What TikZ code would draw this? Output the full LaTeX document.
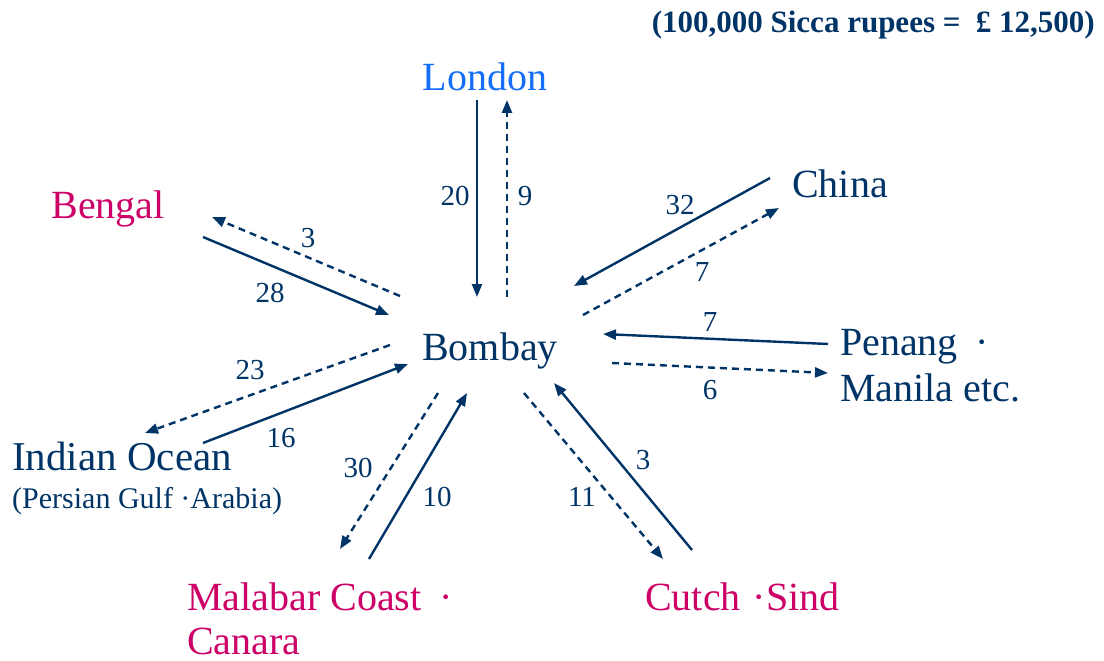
\documentclass[tikz,border=0pt]{standalone}
\usepackage{fontspec}
\setmainfont{Liberation Serif}
\usepackage{xcolor}
\usetikzlibrary{arrows.meta}
\definecolor{navy}{RGB}{0,51,102}
\definecolor{lblue}{RGB}{20,110,250}
\definecolor{mgnt}{RGB}{204,0,102}
\tikzset{
  place/.style={inner sep=0pt, anchor=base, font=\fontsize{40}{46}\selectfont},
  num/.style={inner sep=0pt, text=navy, font=\fontsize{29}{34}\selectfont},
  flow/.style={draw=navy, line width=2.4pt, -{Triangle[length=13pt,width=10pt]}},
  back/.style={flow, dash pattern=on 7pt off 5pt},
}
\begin{document}
\begin{tikzpicture}[x=1pt,y=-1pt]
\useasboundingbox (0,0) rectangle (1104,661);

\node[inner sep=0pt, anchor=base east, text=navy, font=\fontsize{31}{36}\selectfont\bfseries] (rate) at (1095,33) {(100,000 Sicca rupees = \ £ 12,500)};

% places
\node[place, text=navy] (bombay) at (490,360) {Bombay};
\node[place, text=lblue] (london) at (485,91) {London};
\node[place, text=mgnt] (bengal) at (108,218) {Bengal};
\node[place, text=navy] (china) at (840,197) {China};
\node[place, text=navy, anchor=base west] (penang) at (840,355) {Penang\hspace{0.45em}·};
\node[place, text=navy, anchor=base west] (manila) at (840,401) {Manila etc.};
\node[place, text=navy, anchor=base west, font=\fontsize{41}{46}\selectfont] (indian) at (12,470) {Indian Ocean};
\node[inner sep=0pt, text=navy, anchor=base west, font=\fontsize{30}{34}\selectfont] (indiansub) at (12,508) {(Persian Gulf ·Arabia)};
\node[place, text=mgnt, anchor=base west] (malabar) at (187,610) {Malabar Coast\hspace{0.45em}·};
\node[place, text=mgnt, anchor=base west] (canara) at (187,654) {Canara};
\node[place, text=mgnt, anchor=base west] (cutch) at (645,610) {Cutch\hspace{0.3em}·Sind};

% London
\draw[flow] ([shift={(-8,9)}]london.base) -- ([shift={(-13,-63)}]bombay.base);
\draw[back] ([shift={(17,-63)}]bombay.base) -- ([shift={(22,9)}]london.base);
% Bengal
\draw[back] ([shift={(-90,-64)}]bombay.base) -- ([shift={(104,-1)}]bengal.base);
\draw[flow] ([shift={(95,19)}]bengal.base) -- ([shift={(-101,-45)}]bombay.base);
% China
\draw[flow] ([shift={(-70,-19)}]china.base) -- ([shift={(84,-74)}]bombay.base);
\draw[back] ([shift={(93,-45)}]bombay.base) -- ([shift={(-61,11)}]china.base);
% Penang
\draw[flow] ([shift={(-12,-11)}]penang.base west) -- ([shift={(113,-26)}]bombay.base);
\draw[back] ([shift={(122,3)}]bombay.base) -- ([shift={(-12,18)}]penang.base west);
% Indian Ocean
\draw[back] ([shift={(-100,-15)}]bombay.base) -- ([shift={(133,-37)}]indian.base west);
\draw[flow] ([shift={(191,-27)}]indian.base west) -- ([shift={(-82,4)}]bombay.base);
% Malabar
\draw[back] ([shift={(-52,33)}]bombay.base) -- ([shift={(153,-61)}]malabar.base west);
\draw[flow] ([shift={(182,-51)}]malabar.base west) -- ([shift={(-23,33)}]bombay.base);
% Cutch
\draw[back] ([shift={(34,33)}]bombay.base) -- ([shift={(18,-51)}]cutch.base west);
\draw[flow] ([shift={(47,-60)}]cutch.base west) -- ([shift={(64,23)}]bombay.base);

% values
\node[num] (n-lo-in) at (455,196) {20};
\node[num] (n-lo-out) at (525,196) {9};
\node[num] (n-be-out) at (308,238) {3};
\node[num] (n-be-in) at (270,293) {28};
\node[num] (n-ch-in) at (680,205) {32};
\node[num] (n-ch-out) at (702,272) {7};
\node[num] (n-pe-in) at (710,322) {7};
\node[num] (n-pe-out) at (710,390) {6};
\node[num] (n-io-out) at (250,370) {23};
\node[num] (n-io-in) at (281,438) {16};
\node[num] (n-ma-out) at (358,468) {30};
\node[num] (n-ma-in) at (437,497) {10};
\node[num] (n-cu-in) at (643,460) {3};
\node[num] (n-cu-out) at (582,497) {11};

\end{tikzpicture}
\end{document}
